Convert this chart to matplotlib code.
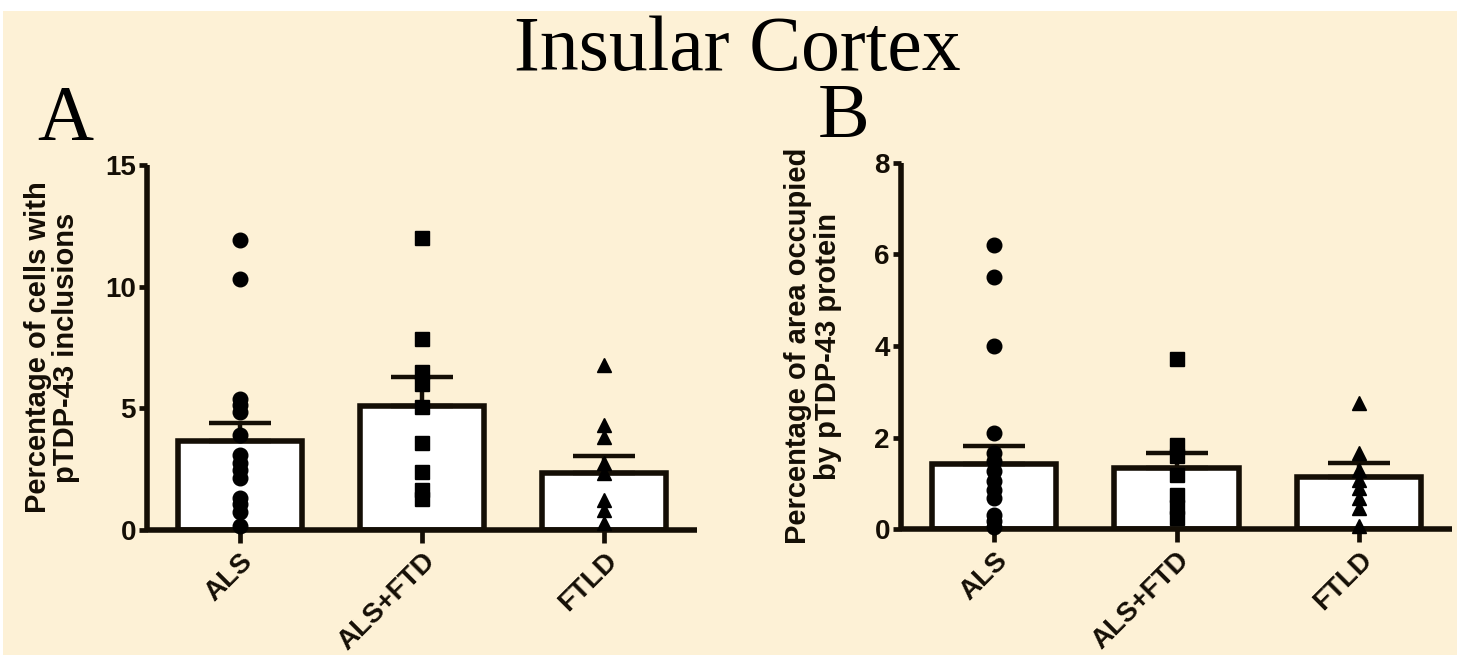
import matplotlib
matplotlib.use("Agg")
import matplotlib.pyplot as plt
from matplotlib.patches import Rectangle

# ============================
# DATA
# ============================

groups = ["ALS", "ALS+FTD", "FTLD"]
markers = ["o", "s", "^"]

# panel A: percentage of cells with pTDP-43 inclusions
a_als = [11.9, 10.3, 5.4, 5.15, 4.85, 3.9, 3.1, 2.75, 2.45, 2.15, 1.3, 1.05, 0.75, 0.15]
a_alsftd = [12.0, 7.85, 6.5, 6.0, 5.07, 3.58, 2.38, 1.64, 1.26]
a_ftld = [6.8, 4.32, 3.81, 2.74, 2.33, 1.23, 0.82, 0.27]
a_mean = [3.66, 5.11, 2.36]
a_sem = [0.75, 1.16, 0.67]

# panel B: percentage of area occupied by pTDP-43 protein
b_als = [6.2, 5.5, 4.0, 2.1, 1.66, 1.48, 1.26, 1.04, 0.86, 0.68, 0.31, 0.17, 0.05]
b_alsftd = [3.72, 1.84, 1.59, 1.19, 0.75, 0.49, 0.24]
b_ftld = [2.75, 1.66, 1.30, 1.08, 0.90, 0.68, 0.46, 0.06]
b_mean = [1.42, 1.33, 1.13]
b_sem = [0.39, 0.33, 0.31]

# ============================
# STYLE
# ============================

BG = "#FDF1D6"
INK = "#140e05"
SANS = "Liberation Sans"
SERIF = "Liberation Serif"

fig = plt.figure(figsize=(14.57, 6.55), dpi=100, facecolor="white")
fig.patches.append(Rectangle((3 / 1457, 0), 1, 644 / 655, transform=fig.transFigure,
                             facecolor=BG, edgecolor="none", zorder=-5))


def panel(ax, points, means, sems, ymax, yticks, ylabel, label_x, spacing):
    x = list(range(len(groups)))
    ax.set_facecolor("none")
    ax.bar(x, means, width=0.68, facecolor="white", edgecolor=INK,
           linewidth=4, zorder=2)
    ax.errorbar(x, means, yerr=[[0] * len(sems), sems], fmt="none",
                ecolor=INK, elinewidth=3.2, capsize=22, capthick=3.2, zorder=3)
    for i, pts in enumerate(points):
        ax.plot([i] * len(pts), pts, linestyle="none", marker=markers[i],
                markersize=10.5, color="black", zorder=4, clip_on=False)

    ax.set_xlim(-0.51, 2.51)
    ax.set_ylim(0, ymax)
    ax.set_yticks(yticks)
    ax.set_xticks(x)
    ax.set_xticklabels(groups, rotation=45, ha="right", va="top",
                       rotation_mode="anchor")

    for side in ["top", "right"]:
        ax.spines[side].set_visible(False)
    for side in ["left", "bottom"]:
        ax.spines[side].set_linewidth(4)
        ax.spines[side].set_color(INK)
        ax.spines[side].set_capstyle("butt")

    ax.tick_params(axis="y", length=6, width=3.4, color=INK, pad=2)
    ax.tick_params(axis="x", length=9, width=3.4, color=INK, pad=4)
    for lab in ax.get_xticklabels() + ax.get_yticklabels():
        lab.set_fontfamily(SANS)
        lab.set_fontweight("bold")
        lab.set_fontsize(20)
        lab.set_color(INK)

    ax.set_ylabel(ylabel, fontfamily=SANS, fontweight="bold", fontsize=21,
                  color=INK, linespacing=spacing)
    ax.yaxis.label.set_va("center")
    ax.yaxis.set_label_coords(label_x, 0.5)


# ============================
# PANEL A
# ============================

ax_a = fig.add_axes([147 / 1457, 125 / 655, 550 / 1457, 365 / 655])
panel(ax_a, [a_als, a_alsftd, a_ftld], a_mean, a_sem, 15, [0, 5, 10, 15],
      "Percentage of cells with\npTDP-43 inclusions", -0.172, 1.0)

# ============================
# PANEL B
# ============================

ax_b = fig.add_axes([901 / 1457, 126 / 655, 551 / 1457, 366 / 655])
panel(ax_b, [b_als, b_alsftd, b_ftld], b_mean, b_sem, 8, [0, 2, 4, 6, 8],
      "Percentage of area occupied\nby pTDP-43 protein", -0.16, 1.12)

# ============================
# TITLES
# ============================

fig.text(0.506, 585 / 655, "Insular Cortex", fontfamily=SERIF, fontsize=56,
         ha="center", va="baseline", color="black")
fig.text(37 / 1457, 516 / 655, "A", fontfamily=SERIF, fontsize=56,
         ha="left", va="baseline", color="black")
fig.text(818 / 1457, 518 / 655, "B", fontfamily=SERIF, fontsize=56,
         ha="left", va="baseline", color="black")

fig.savefig("out.png", dpi=100, facecolor=fig.get_facecolor())
